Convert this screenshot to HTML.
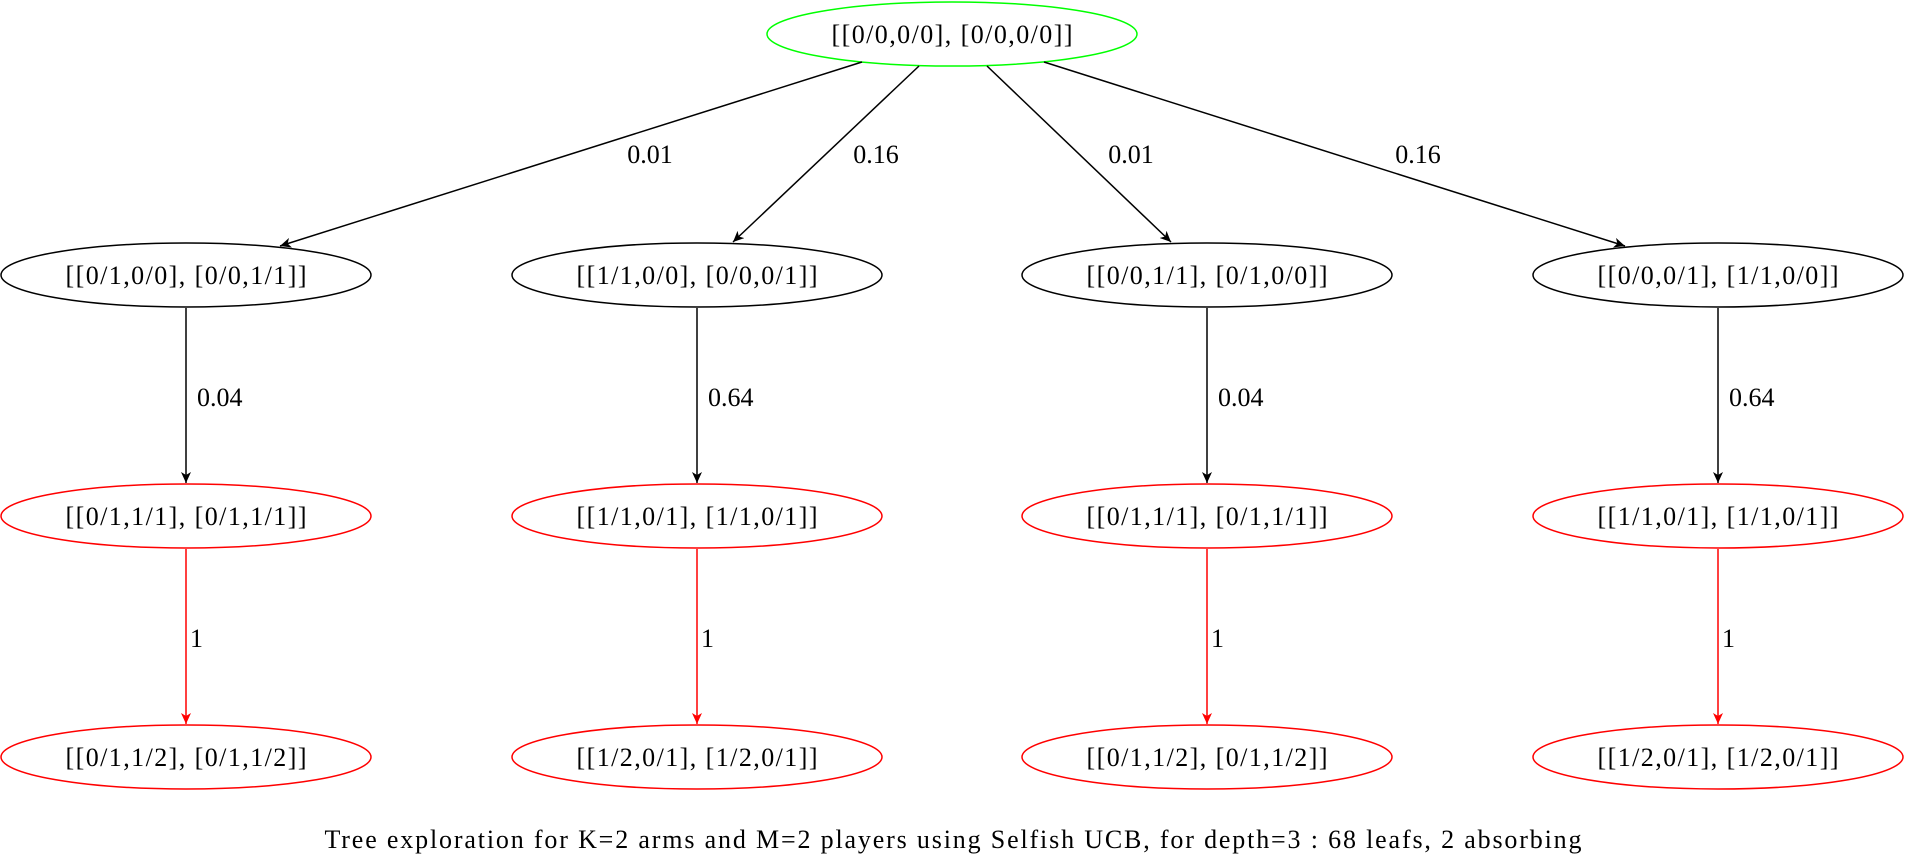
<!DOCTYPE html>
<html><head><meta charset="utf-8"><style>html,body{margin:0;padding:0;background:#fff}svg{display:block}text{font-family:"Liberation Serif",serif;font-size:26px}</style></head>
<body>
<svg width="1906" height="862" viewBox="0 0 1906 862" xmlns="http://www.w3.org/2000/svg">
<defs>
<marker id="ab" markerWidth="12" markerHeight="10" refX="11" refY="5" orient="auto" markerUnits="userSpaceOnUse"><path d="M0,0 L11,5 L0,10 L3,5 Z" fill="#000"/></marker>
<marker id="ar" markerWidth="12" markerHeight="10" refX="11" refY="5" orient="auto" markerUnits="userSpaceOnUse"><path d="M0,0 L11,5 L0,10 L3,5 Z" fill="#f00"/></marker>
</defs>
<g fill="none" stroke-width="1.5">
<ellipse cx="952" cy="34" rx="185" ry="32" stroke="#0f0"/>
<g stroke="#000">
<ellipse cx="186" cy="275" rx="185" ry="32"/>
<ellipse cx="697" cy="275" rx="185" ry="32"/>
<ellipse cx="1207" cy="275" rx="185" ry="32"/>
<ellipse cx="1718" cy="275" rx="185" ry="32"/>
<line x1="862" y1="62" x2="280" y2="246" marker-end="url(#ab)"/>
<line x1="919" y1="66" x2="733" y2="242" marker-end="url(#ab)"/>
<line x1="987" y1="66" x2="1171" y2="242" marker-end="url(#ab)"/>
<line x1="1044" y1="62" x2="1625" y2="246" marker-end="url(#ab)"/>
<line x1="186" y1="308" x2="186" y2="483" marker-end="url(#ab)"/>
<line x1="697" y1="308" x2="697" y2="483" marker-end="url(#ab)"/>
<line x1="1207" y1="308" x2="1207" y2="483" marker-end="url(#ab)"/>
<line x1="1718" y1="308" x2="1718" y2="483" marker-end="url(#ab)"/>
</g>
<g stroke="#f00">
<ellipse cx="186" cy="516" rx="185" ry="32"/>
<ellipse cx="697" cy="516" rx="185" ry="32"/>
<ellipse cx="1207" cy="516" rx="185" ry="32"/>
<ellipse cx="1718" cy="516" rx="185" ry="32"/>
<ellipse cx="186" cy="757" rx="185" ry="32"/>
<ellipse cx="697" cy="757" rx="185" ry="32"/>
<ellipse cx="1207" cy="757" rx="185" ry="32"/>
<ellipse cx="1718" cy="757" rx="185" ry="32"/>
<line x1="186" y1="549" x2="186" y2="724" marker-end="url(#ar)"/>
<line x1="697" y1="549" x2="697" y2="724" marker-end="url(#ar)"/>
<line x1="1207" y1="549" x2="1207" y2="724" marker-end="url(#ar)"/>
<line x1="1718" y1="549" x2="1718" y2="724" marker-end="url(#ar)"/>
</g>
</g>
<g text-anchor="middle" fill="#000">
<text x="952" y="43" textLength="241">[[0/0,0/0], [0/0,0/0]]</text>
<text x="186" y="284" textLength="241">[[0/1,0/0], [0/0,1/1]]</text>
<text x="697" y="284" textLength="241">[[1/1,0/0], [0/0,0/1]]</text>
<text x="1207" y="284" textLength="241">[[0/0,1/1], [0/1,0/0]]</text>
<text x="1718" y="284" textLength="241">[[0/0,0/1], [1/1,0/0]]</text>
<text x="186" y="525" textLength="241">[[0/1,1/1], [0/1,1/1]]</text>
<text x="697" y="525" textLength="241">[[1/1,0/1], [1/1,0/1]]</text>
<text x="1207" y="525" textLength="241">[[0/1,1/1], [0/1,1/1]]</text>
<text x="1718" y="525" textLength="241">[[1/1,0/1], [1/1,0/1]]</text>
<text x="186" y="766" textLength="241">[[0/1,1/2], [0/1,1/2]]</text>
<text x="697" y="766" textLength="241">[[1/2,0/1], [1/2,0/1]]</text>
<text x="1207" y="766" textLength="241">[[0/1,1/2], [0/1,1/2]]</text>
<text x="1718" y="766" textLength="241">[[1/2,0/1], [1/2,0/1]]</text>
<text x="650" y="163">0.01</text>
<text x="876" y="163">0.16</text>
<text x="1131" y="163">0.01</text>
<text x="1418" y="163">0.16</text>
<text x="953" y="848" textLength="1257" font-size="25">Tree exploration for K=2 arms and M=2 players using Selfish UCB, for depth=3 : 68 leafs, 2 absorbing</text>
</g>
<g fill="#000">
<text x="197" y="406">0.04</text>
<text x="708" y="406">0.64</text>
<text x="1218" y="406">0.04</text>
<text x="1729" y="406">0.64</text>
<text x="190" y="647">1</text>
<text x="701" y="647">1</text>
<text x="1211" y="647">1</text>
<text x="1722" y="647">1</text>
</g>
</svg>
</body></html>
